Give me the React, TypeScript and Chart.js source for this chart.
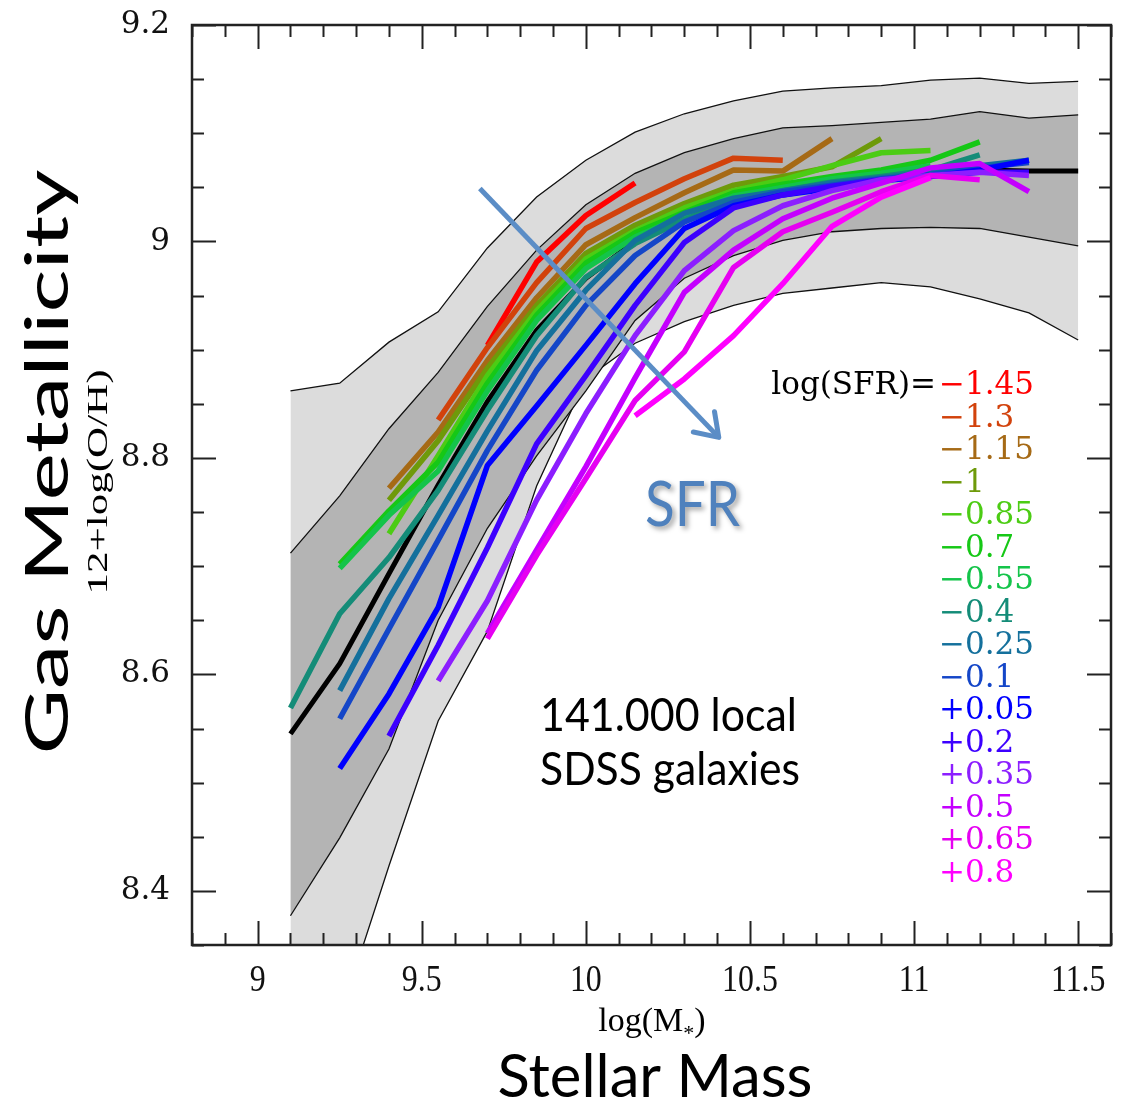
import React, { useEffect, useRef } from "react";
import { Chart, registerables } from "chart.js";

Chart.register(...registerables);

// Stellar-mass bins, log(M*)
const massGrid = [9.1, 9.25, 9.4, 9.55, 9.7, 9.85, 10.0, 10.15, 10.3, 10.45, 10.6, 10.75, 10.9, 11.05, 11.2, 11.35, 11.5];

// Distribution of 12+log(O/H) in each mass bin
const outerUpper = [8.862, 8.869, 8.907, 8.935, 8.994, 9.041, 9.075, 9.101, 9.118, 9.130, 9.139, 9.142, 9.144, 9.149, 9.151, 9.146, 9.148];
const innerUpper = [8.712, 8.765, 8.827, 8.879, 8.940, 8.992, 9.034, 9.063, 9.082, 9.095, 9.105, 9.107, 9.110, 9.113, 9.120, 9.114, 9.117];
const medianZ = [8.545, 8.610, 8.693, 8.775, 8.852, 8.918, 8.966, 9.000, 9.024, 9.040, 9.050, 9.057, 9.062, 9.065, 9.066, 9.065, 9.065];
const innerLower = [8.377, 8.449, 8.531, 8.650, 8.735, 8.802, 8.862, 8.927, 8.966, 8.987, 9.001, 9.009, 9.012, 9.013, 9.012, 9.004, 8.996];
const outerLower = [8.150, 8.283, 8.423, 8.557, 8.640, 8.774, 8.873, 8.906, 8.926, 8.941, 8.952, 8.957, 8.962, 8.958, 8.947, 8.934, 8.909];

// Median metallicity at fixed SFR (one array per log(SFR) bin)
const sfrLabels = ["\u22121.45", "\u22121.3", "\u22121.15", "\u22121", "\u22120.85", "\u22120.7", "\u22120.55", "\u22120.4", "\u22120.25", "\u22120.1", "+0.05", "+0.2", "+0.35", "+0.5", "+0.65", "+0.8"];
const sfrColors = ["#ff0000", "#d2420c", "#a66a16", "#6e9a0a", "#4ccc14", "#16c816", "#14c44a", "#148c78", "#14709c", "#1446c8", "#0000ff", "#3c00ff", "#8c1eff", "#c400ff", "#e600f2", "#ff00ff"];
const sfrFirstMass = [9.7, 9.55, 9.4, 9.4, 9.4, 9.25, 9.25, 9.1, 9.25, 9.25, 9.25, 9.4, 9.55, 9.7, 9.7, 10.15];

const zSfrM145 = [8.904, 8.981, 9.024, 9.054];
const zSfrM130 = [8.835, 8.902, 8.962, 9.012, 9.036, 9.058, 9.077, 9.075];
const zSfrM115 = [8.772, 8.824, 8.890, 8.948, 8.997, 9.022, 9.045, 9.066, 9.065, 9.095];
const zSfrM100 = [8.761, 8.816, 8.883, 8.941, 8.989, 9.015, 9.035, 9.052, 9.060, 9.069, 9.095];
const zSfrM085 = [8.730, 8.802, 8.876, 8.936, 8.984, 9.010, 9.031, 9.047, 9.057, 9.070, 9.082, 9.084];
const zSfrM070 = [8.702, 8.751, 8.796, 8.869, 8.932, 8.980, 9.008, 9.027, 9.045, 9.053, 9.060, 9.066, 9.075, 9.092];
const zSfrM055 = [8.698, 8.747, 8.788, 8.862, 8.927, 8.975, 9.004, 9.024, 9.042, 9.050, 9.058, 9.063, 9.070];
const zSfrM040 = [8.569, 8.656, 8.708, 8.770, 8.844, 8.913, 8.967, 8.998, 9.020, 9.038, 9.047, 9.055, 9.060, 9.066, 9.080];
const zSfrM025 = [8.585, 8.670, 8.747, 8.825, 8.899, 8.955, 9.001, 9.026, 9.040, 9.047, 9.054, 9.059, 9.064, 9.070, 9.075];
const zSfrM010 = [8.559, 8.642, 8.724, 8.807, 8.881, 8.941, 8.987, 9.018, 9.036, 9.046, 9.052, 9.058, 9.062, 9.068, 9.073];
const zSfrP005 = [8.513, 8.582, 8.662, 8.793, 8.848, 8.904, 8.961, 9.012, 9.033, 9.043, 9.049, 9.056, 9.060, 9.066, 9.075];
const zSfrP020 = [8.543, 8.627, 8.717, 8.813, 8.876, 8.941, 8.999, 9.031, 9.043, 9.051, 9.057, 9.060, 9.064, 9.064];
const zSfrP035 = [8.594, 8.668, 8.761, 8.841, 8.913, 8.973, 9.010, 9.033, 9.047, 9.057, 9.061, 9.064, 9.061];
const zSfrP050 = [8.638, 8.715, 8.792, 8.874, 8.953, 8.992, 9.021, 9.040, 9.054, 9.068, 9.072, 9.046];
const zSfrP065 = [8.633, 8.710, 8.781, 8.853, 8.898, 8.976, 9.009, 9.027, 9.046, 9.061, 9.057];
const zSfrP080 = [8.839, 8.873, 8.913, 8.961, 9.014, 9.041, 9.059];

const sfrSeries = [zSfrM145, zSfrM130, zSfrM115, zSfrM100, zSfrM085, zSfrM070, zSfrM055, zSfrM040, zSfrM025, zSfrM010, zSfrP005, zSfrP020, zSfrP035, zSfrP050, zSfrP065, zSfrP080];

// Direction of increasing SFR (mass, metallicity)
const arrowFrom = [9.677, 9.049];
const arrowTo = [10.405, 8.819];

const xTicks = { min: 8.8, max: 11.6, step: 0.1, labelEvery: 0.5 };
const yTicks = { min: 8.35, max: 9.2, step: 0.05, labelEvery: 0.2 };

const isMultiple = (v: number, step: number) => Math.abs(v / step - Math.round(v / step)) < 1e-6;
const tickText = (v: number) => String(Math.round(v * 10) / 10);

const pts = (xs: number[], ys: number[]) => ys.map((y, i) => ({ x: xs[i], y }));

function fitText(
  ctx: CanvasRenderingContext2D,
  text: string,
  x: number,
  y: number,
  font: string,
  color: string,
  align: CanvasTextAlign,
  width?: number,
  rotate?: number,
  squeeze?: number
) {
  ctx.save();
  ctx.translate(x, y);
  if (rotate) ctx.rotate(rotate);
  ctx.font = font;
  ctx.fillStyle = color;
  ctx.textBaseline = "alphabetic";
  const w = ctx.measureText(text).width;
  if (width) ctx.scale(width / w, 1);
  else if (squeeze) ctx.scale(squeeze, 1);
  ctx.textAlign = align;
  ctx.fillText(text, 0, 0);
  ctx.restore();
}

const frameAndTicks = {
  id: "frameAndTicks",
  afterDatasetsDraw(chart: any) {
    const { ctx, chartArea: a, scales } = chart;
    const x = scales.x;
    const y = scales.y;
    ctx.save();
    ctx.strokeStyle = "#222";
    ctx.lineWidth = 2;
    ctx.beginPath();
    x.ticks.forEach((t: any) => {
      const px = Math.round(x.getPixelForValue(t.value)) + 0.5;
      const len = isMultiple(t.value, xTicks.labelEvery) ? 24 : 12;
      ctx.moveTo(px, a.bottom);
      ctx.lineTo(px, a.bottom - len);
      ctx.moveTo(px, a.top);
      ctx.lineTo(px, a.top + len);
    });
    y.ticks.forEach((t: any) => {
      const py = Math.round(y.getPixelForValue(t.value)) + 0.5;
      const len = isMultiple(t.value, yTicks.labelEvery) ? 24 : 12;
      ctx.moveTo(a.left, py);
      ctx.lineTo(a.left + len, py);
      ctx.moveTo(a.right, py);
      ctx.lineTo(a.right - len, py);
    });
    ctx.stroke();
    ctx.lineWidth = 2.5;
    ctx.strokeRect(a.left, a.top, a.right - a.left, a.bottom - a.top);

    // x tick labels, set in a tall narrow serif
    x.ticks.forEach((t: any) => {
      if (!isMultiple(t.value, xTicks.labelEvery)) return;
      fitText(ctx, tickText(t.value), x.getPixelForValue(t.value), a.bottom + 46, "37px 'Liberation Serif'", "#111", "center", undefined, undefined, 0.86);
    });

    // arrow showing the SFR trend
    const x0 = x.getPixelForValue(arrowFrom[0]);
    const y0 = y.getPixelForValue(arrowFrom[1]);
    const x1 = x.getPixelForValue(arrowTo[0]);
    const y1 = y.getPixelForValue(arrowTo[1]);
    const ang = Math.atan2(y1 - y0, x1 - x0);
    ctx.strokeStyle = "#5b8dc6";
    ctx.lineWidth = 5;
    ctx.lineCap = "butt";
    ctx.beginPath();
    ctx.moveTo(x0, y0);
    ctx.lineTo(x1, y1);
    ctx.stroke();
    ctx.lineCap = "round";
    ctx.lineJoin = "round";
    ctx.beginPath();
    const head = 26;
    ctx.moveTo(x1 - head * Math.cos(ang - 0.6), y1 - head * Math.sin(ang - 0.6));
    ctx.lineTo(x1, y1);
    ctx.lineTo(x1 - head * Math.cos(ang + 0.6), y1 - head * Math.sin(ang + 0.6));
    ctx.stroke();

    // SFR label with soft shadow
    ctx.save();
    ctx.shadowColor = "rgba(0,0,0,0.35)";
    ctx.shadowBlur = 5;
    ctx.shadowOffsetX = 3;
    ctx.shadowOffsetY = 3;
    fitText(ctx, "SFR", 645, 526, "62px Lato", "#4f81bd", "left", 95);
    ctx.restore();

    // sample description
    fitText(ctx, "141.000 local", 540, 731, "46px Lato", "#000", "left", 257);
    fitText(ctx, "SDSS galaxies", 540, 785, "46px Lato", "#000", "left", 260);

    // SFR key
    fitText(ctx, "log(SFR)=", 936, 394, "31px 'DejaVu Serif'", "#000", "right");
    sfrLabels.forEach((lab, i) => {
      fitText(ctx, lab, 939, 394 + i * 32.5, "31px 'DejaVu Serif'", sfrColors[i], "left");
    });
    ctx.restore();
  },
  afterDraw(chart: any) {
    const { ctx } = chart;
    ctx.save();
    fitText(ctx, "Gas Metallicity", 68, 462, "60px Lato", "#000", "center", 585, -Math.PI / 2);
    fitText(ctx, "12+log(O/H)", 107, 482, "29px 'Liberation Serif'", "#000", "center", 225, -Math.PI / 2);
    // log(M*) with a subscript star
    ctx.font = "34px 'Liberation Serif'";
    const w1 = ctx.measureText("log(M").width;
    ctx.font = "22px 'Liberation Serif'";
    const w2 = ctx.measureText("*").width;
    ctx.font = "34px 'Liberation Serif'";
    const w3 = ctx.measureText(")").width;
    const total = w1 + w2 + w3;
    let cx = 652 - total / 2;
    ctx.fillStyle = "#000";
    ctx.textAlign = "left";
    ctx.fillText("log(M", cx, 1031);
    cx += w1;
    ctx.font = "22px 'Liberation Serif'";
    ctx.fillText("*", cx, 1040);
    cx += w2;
    ctx.font = "34px 'Liberation Serif'";
    ctx.fillText(")", cx, 1031);
    fitText(ctx, "Stellar Mass", 655, 1097, "60px Lato", "#000", "center", 315);
    ctx.restore();
  },
};

const noScalePadding = (s: any) => {
  s.paddingTop = 0;
  s.paddingBottom = 0;
  s.paddingLeft = 0;
  s.paddingRight = 0;
};

export default function App() {
  const ref = useRef<HTMLCanvasElement>(null);

  useEffect(() => {
    document.body.style.margin = "0";
    const band = (data: number[], order: number, extra: any = {}) => ({
      data: pts(massGrid, data),
      borderColor: "#111",
      borderWidth: 1.3,
      pointRadius: 0,
      fill: false,
      order,
      ...extra,
    });
    const datasets: any[] = [
      band(outerUpper, 50, { fill: { target: 1 }, backgroundColor: "#dcdcdc" }),
      band(outerLower, 49),
      band(innerUpper, 48, { fill: { target: 3 }, backgroundColor: "#b4b4b4" }),
      band(innerLower, 47),
      { data: pts(massGrid, medianZ), borderColor: "#000", borderWidth: 5, pointRadius: 0, fill: false, order: 40 },
    ];
    sfrSeries.forEach((vals, i) => {
      const start = massGrid.findIndex((m) => Math.abs(m - sfrFirstMass[i]) < 1e-6);
      datasets.push({
        label: sfrLabels[i],
        data: pts(massGrid.slice(start), vals),
        borderColor: sfrColors[i],
        borderWidth: 5.5,
        borderCapStyle: "butt",
        borderJoinStyle: "round",
        pointRadius: 0,
        fill: false,
        order: 30 - i,
      });
    });

    const chart = new Chart(ref.current as HTMLCanvasElement, {
      type: "line",
      data: { datasets },
      options: {
        animation: false,
        responsive: false,
        layout: { padding: { top: 25, right: 22, left: 0, bottom: 0 } },
        plugins: { legend: { display: false }, tooltip: { enabled: false } },
        elements: { line: { tension: 0 } },
        scales: {
          x: {
            type: "linear",
            min: xTicks.min,
            max: xTicks.max,
            grid: { display: false, drawTicks: false },
            border: { display: false },
            afterFit: (s: any) => {
              s.height = 159;
              noScalePadding(s);
            },
            ticks: {
              stepSize: xTicks.step,
              autoSkip: false,
              maxRotation: 0,
              color: "rgba(0,0,0,0)",
              font: { family: "'Liberation Serif'", size: 32 },
              callback: (v: any) => (isMultiple(Number(v), xTicks.labelEvery) ? tickText(Number(v)) : ""),
            },
          },
          y: {
            type: "linear",
            min: yTicks.min,
            max: yTicks.max,
            grid: { display: false, drawTicks: false },
            border: { display: false },
            afterFit: (s: any) => {
              s.width = 192;
              noScalePadding(s);
            },
            ticks: {
              stepSize: yTicks.step,
              autoSkip: false,
              padding: 22,
              color: "#111",
              font: { family: "'DejaVu Serif'", size: 31 },
              callback: (v: any) => (isMultiple(Number(v), yTicks.labelEvery) ? tickText(Number(v)) : ""),
            },
          },
        },
      } as any,
      plugins: [frameAndTicks],
    });
    return () => chart.destroy();
  }, []);

  return <canvas ref={ref} width={1133} height={1104} style={{ display: "block" }} />;
}
